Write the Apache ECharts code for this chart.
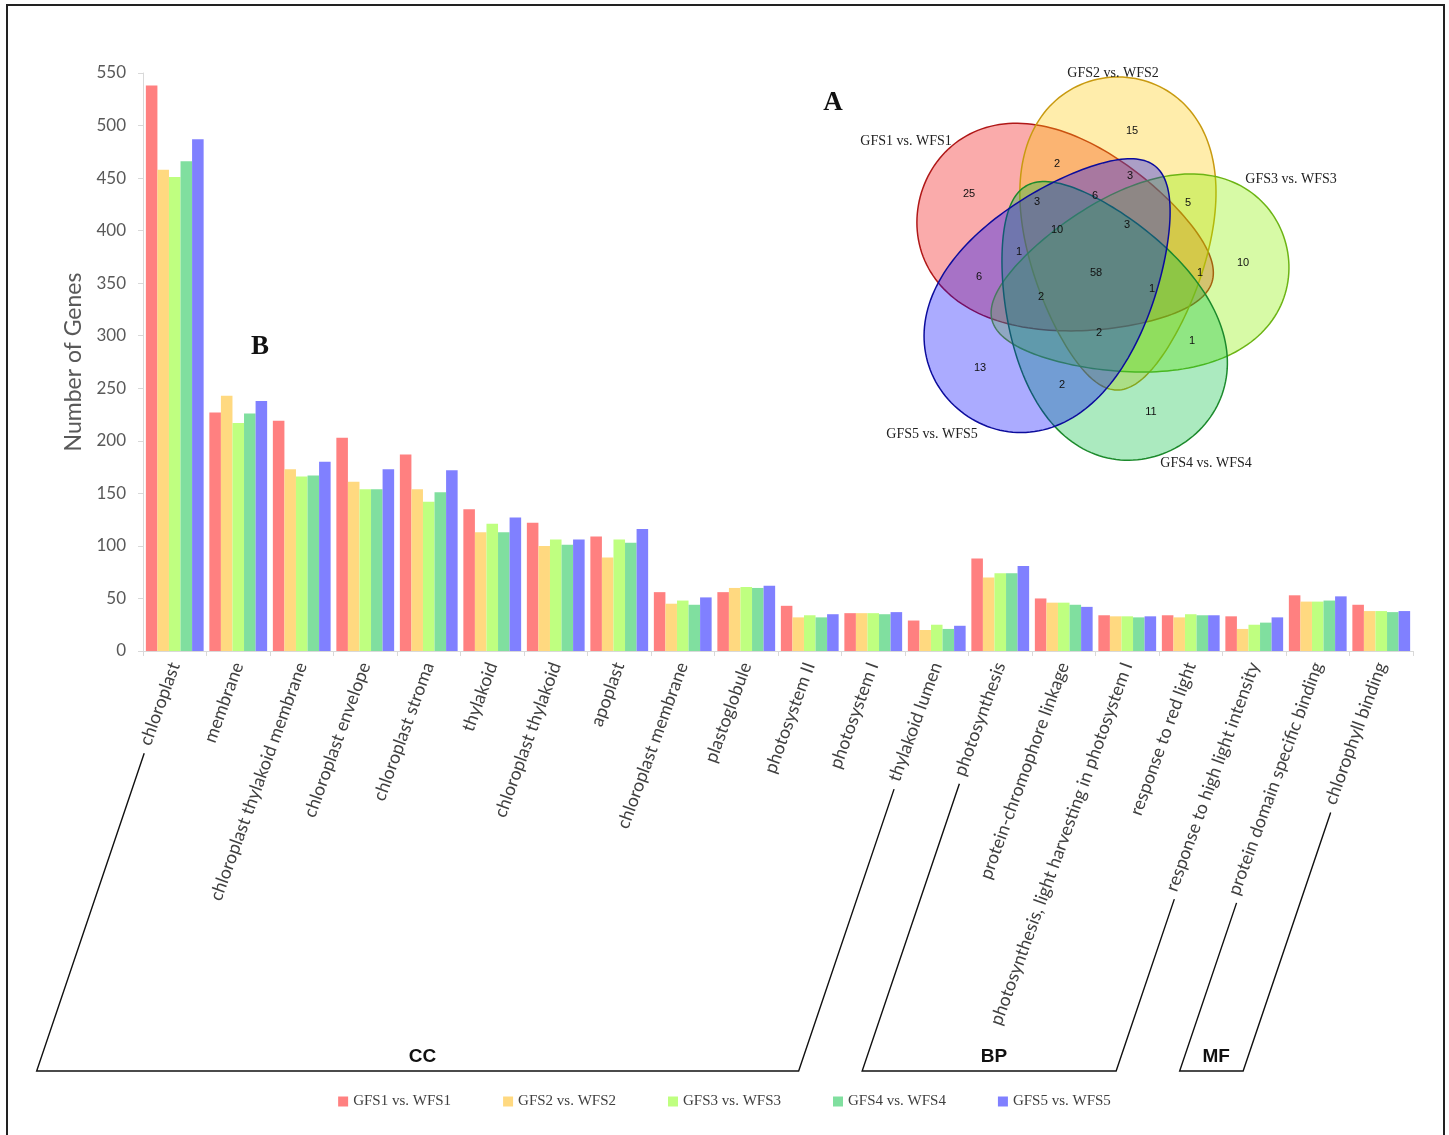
<!DOCTYPE html>
<html>
<head>
<meta charset="utf-8">
<script src="https://cdn.jsdelivr.net/npm/echarts@6/dist/echarts.min.js"></script>
<style>
  html, body { margin: 0; padding: 0; background: #ffffff; }
  #chart { width: 1449px; height: 1135px; }
</style>
</head>
<body>
<div id="chart"></div>
<script>
// GO terms (x categories)
const categories = [
  'chloroplast', 'membrane', 'chloroplast thylakoid membrane', 'chloroplast envelope',
  'chloroplast stroma', 'thylakoid', 'chloroplast thylakoid', 'apoplast',
  'chloroplast membrane', 'plastoglobule', 'photosystem II', 'photosystem I',
  'thylakoid lumen', 'photosynthesis', 'protein-chromophore linkage',
  'photosynthesis, light harvesting in photosystem I', 'response to red light',
  'response to high light intensity', 'protein domain specific binding', 'chlorophyll binding'
];

// Comparison names (series)
const seriesNames = ['GFS1 vs. WFS1', 'GFS2 vs. WFS2', 'GFS3 vs. WFS3', 'GFS4 vs. WFS4', 'GFS5 vs. WFS5'];

// Number of genes per GO term
const gfs1 = [538, 227, 219, 203, 187, 135, 122, 109, 56, 56, 43, 36, 29, 88, 50, 34, 34, 33, 53, 44];
const gfs2 = [458, 243, 173, 161, 154, 113, 100, 89, 45, 60, 32, 36, 20, 70, 46, 33, 32, 21, 47, 38];
const gfs3 = [451, 217, 166, 154, 142, 121, 106, 106, 48, 61, 34, 36, 25, 74, 46, 33, 35, 25, 47, 38];
const gfs4 = [466, 226, 167, 154, 151, 113, 101, 103, 44, 60, 32, 35, 21, 74, 44, 32, 34, 27, 48, 37];
const gfs5 = [487, 238, 180, 173, 172, 127, 106, 116, 51, 62, 35, 37, 24, 81, 42, 33, 34, 32, 52, 38];

// GO groups: [label, first category index, last category index]
const goGroups = [['CC', 0, 12], ['BP', 13, 17], ['MF', 18, 19]];

// Y axis ticks
const yMin = 0, yMax = 550, yStep = 50;

// Venn diagram: set labels and region counts
const vennSets = ['GFS1 vs. WFS1', 'GFS2 vs. WFS2', 'GFS3 vs. WFS3', 'GFS4 vs. WFS4', 'GFS5 vs. WFS5'];
const vennCounts = [15, 2, 3, 25, 3, 6, 5, 10, 3, 1, 10, 1, 58, 6, 1, 2, 2, 1, 13, 2, 11];

// ---------- layout / styling ----------
const palette = ['#ff8080', '#ffd980', '#bfff80', '#80df9f', '#8080ff'];
const labelFont = 'Lato';
const labelSize = 18;
const labelRotate = 70;
const labelMargin = 12;
const bracketAngle = 71.3;

const vennRegionPos = [
  [1132, 131], [1057, 164], [1130, 176], [969, 194], [1037, 202], [1095, 196], [1188, 203],
  [1057, 230], [1127, 225], [1019, 252], [1243, 263], [1200, 273], [1096, 273], [979, 277],
  [1152, 289], [1041, 297], [1099, 333], [1192, 341], [980, 368], [1062, 385], [1151, 412]
];
const vennSetLabelPos = [[906, 141], [1113, 73], [1291, 179], [1206, 463], [932, 434]];
// egg-shaped set outlines: blunt-end centre (bx, by), blunt radius r, tip (tx, ty)
const vennShapes = [
  { bx: 1017, by: 222, r: 100, tx: 1212, ty: 282, fill: 'rgba(240,0,0,0.33)', stroke: '#b01818' },
  { bx: 1118, by: 175, r: 98, tx: 1117, ty: 390, fill: 'rgba(255,200,0,0.33)', stroke: '#c89a10' },
  { bx: 1193, by: 268, r: 96, tx: 992, ty: 320, fill: 'rgba(140,240,0,0.35)', stroke: '#6cb414' },
  { bx: 1128, by: 360, r: 100, tx: 1026, ty: 186, fill: 'rgba(0,190,60,0.33)', stroke: '#1c8a2c' },
  { bx: 1023, by: 333, r: 100, tx: 1155, ty: 166, fill: 'rgba(0,0,255,0.33)', stroke: '#0c0c9c' }
];

function eggPoints(s) {
  const dx = s.tx - s.bx, dy = s.ty - s.by;
  const d = Math.hypot(dx, dy);
  const ux = dx / d, uy = dy / d;
  const a = (s.r + d) / 2;
  const ex = s.bx - s.r * ux + a * ux, ey = s.by - s.r * uy + a * uy;
  const k = 0.3, b = s.r / 1.04;
  const pts = [];
  for (let j = 0; j < 180; j++) {
    const t = j / 180 * Math.PI * 2;
    const lx = a * Math.cos(t);
    const ly = b * Math.sin(t) * (1 - k * Math.cos(t));
    pts.push([ex + lx * ux - ly * uy, ey + lx * uy + ly * ux]);
  }
  return pts;
}

const chart = echarts.init(document.getElementById('chart'), null, { renderer: 'canvas' });

const seriesData = [gfs1, gfs2, gfs3, gfs4, gfs5];

chart.setOption({
  backgroundColor: '#ffffff',
  animation: false,
  color: palette,
  grid: { left: 143, right: 36, top: 73, bottom: 484, containLabel: false },
  legend: {
    data: seriesNames,
    top: 1089,
    left: 'center',
    itemWidth: 10,
    itemHeight: 10,
    itemGap: 52,
    icon: 'rect',
    textStyle: { fontFamily: 'Liberation Serif', fontSize: 15, color: '#404040' }
  },
  xAxis: {
    type: 'category',
    data: categories,
    boundaryGap: true,
    axisLine: { show: true, lineStyle: { color: '#d9d9d9', width: 1 } },
    axisTick: { show: true, length: 5, lineStyle: { color: '#d9d9d9' } },
    axisLabel: {
      interval: 0,
      rotate: labelRotate,
      margin: labelMargin,
      fontFamily: labelFont,
      fontSize: labelSize,
      color: '#404040'
    },
    splitLine: { show: false }
  },
  yAxis: {
    type: 'value',
    min: yMin,
    max: yMax,
    interval: yStep,
    name: 'Number of Genes',
    nameLocation: 'middle',
    nameGap: 57,
    nameTextStyle: { fontFamily: labelFont, fontSize: 23, color: '#595959' },
    axisLine: { show: true, lineStyle: { color: '#d9d9d9', width: 1 } },
    axisTick: { show: true, length: 5, lineStyle: { color: '#d9d9d9' } },
    axisLabel: { margin: 17, fontFamily: labelFont, fontSize: 17, color: '#595959' },
    splitLine: { show: false }
  },
  series: seriesNames.map((name, i) => ({
    name: name,
    type: 'bar',
    data: seriesData[i],
    barGap: '0%',
    barCategoryGap: '9%',
    itemStyle: { color: palette[i] }
  }))
});

// ---------- annotations ----------
function textWidth(str, font) {
  const ctx = document.createElement('canvas').getContext('2d');
  ctx.font = font;
  return ctx.measureText(str).width;
}

const y0 = chart.convertToPixel({ yAxisIndex: 0 }, 0);
const theta = bracketAngle * Math.PI / 180;
const bracketBottom = 1071;
const bracketTextY = 1057;

// point on the centre line of a category label, at pixel row y
function alongLabel(i, y) {
  const cx = chart.convertToPixel({ xAxisIndex: 0 }, i);
  const ay = y0 + labelMargin;
  return [cx - (y - ay) / Math.tan(theta), y];
}
function labelEndY(i) {
  const w = textWidth(categories[i], labelSize + 'px ' + labelFont);
  return y0 + labelMargin + (w + 9) * Math.sin(labelRotate * Math.PI / 180);
}

const graphics = [];

// outer frame
graphics.push({
  type: 'rect', silent: true,
  shape: { x: 7, y: 5, width: 1437, height: 1145 },
  style: { fill: null, stroke: '#222222', lineWidth: 2 }
});

goGroups.forEach(([name, a, b]) => {
  const ya = labelEndY(a), yb = labelEndY(b);
  const pa0 = alongLabel(a, ya), pa1 = alongLabel(a, bracketBottom);
  const pb0 = alongLabel(b, yb), pb1 = alongLabel(b, bracketBottom);
  graphics.push({
    type: 'polyline', silent: true,
    shape: { points: [pa0, pa1, pb1, pb0] },
    style: { fill: null, stroke: '#111111', lineWidth: 1.4 }
  });
  const ta = alongLabel(a, bracketTextY), tb = alongLabel(b, bracketTextY);
  graphics.push({
    type: 'text', silent: true,
    x: (ta[0] + tb[0]) / 2, y: bracketTextY,
    style: {
      text: name, fontFamily: 'Liberation Sans Narrow, Liberation Sans', fontWeight: 'bold',
      fontSize: 19, fill: '#111111', align: 'center', verticalAlign: 'middle'
    }
  });
});

// panel letters
graphics.push({
  type: 'text', silent: true, x: 260, y: 347,
  style: { text: 'B', fontFamily: 'Liberation Serif', fontWeight: 'bold', fontSize: 27,
           fill: '#111111', align: 'center', verticalAlign: 'middle' }
});
graphics.push({
  type: 'text', silent: true, x: 833, y: 103,
  style: { text: 'A', fontFamily: 'Liberation Serif', fontWeight: 'bold', fontSize: 27,
           fill: '#111111', align: 'center', verticalAlign: 'middle' }
});

// Venn set outlines
vennShapes.forEach(s => {
  graphics.push({
    type: 'polygon', silent: true,
    shape: { points: eggPoints(s), smooth: 0 },
    style: { fill: s.fill, stroke: s.stroke, lineWidth: 1.5 }
  });
});
vennCounts.forEach((n, i) => {
  graphics.push({
    type: 'text', silent: true, x: vennRegionPos[i][0], y: vennRegionPos[i][1],
    style: { text: String(n), fontFamily: 'Liberation Sans', fontSize: 11, fill: '#111111',
             align: 'center', verticalAlign: 'middle' }
  });
});
vennSets.forEach((name, i) => {
  graphics.push({
    type: 'text', silent: true, x: vennSetLabelPos[i][0], y: vennSetLabelPos[i][1],
    style: { text: name, fontFamily: 'Liberation Serif', fontSize: 14, fill: '#222222',
             align: 'center', verticalAlign: 'middle' }
  });
});

chart.setOption({ graphic: graphics });
</script>
</body>
</html>
